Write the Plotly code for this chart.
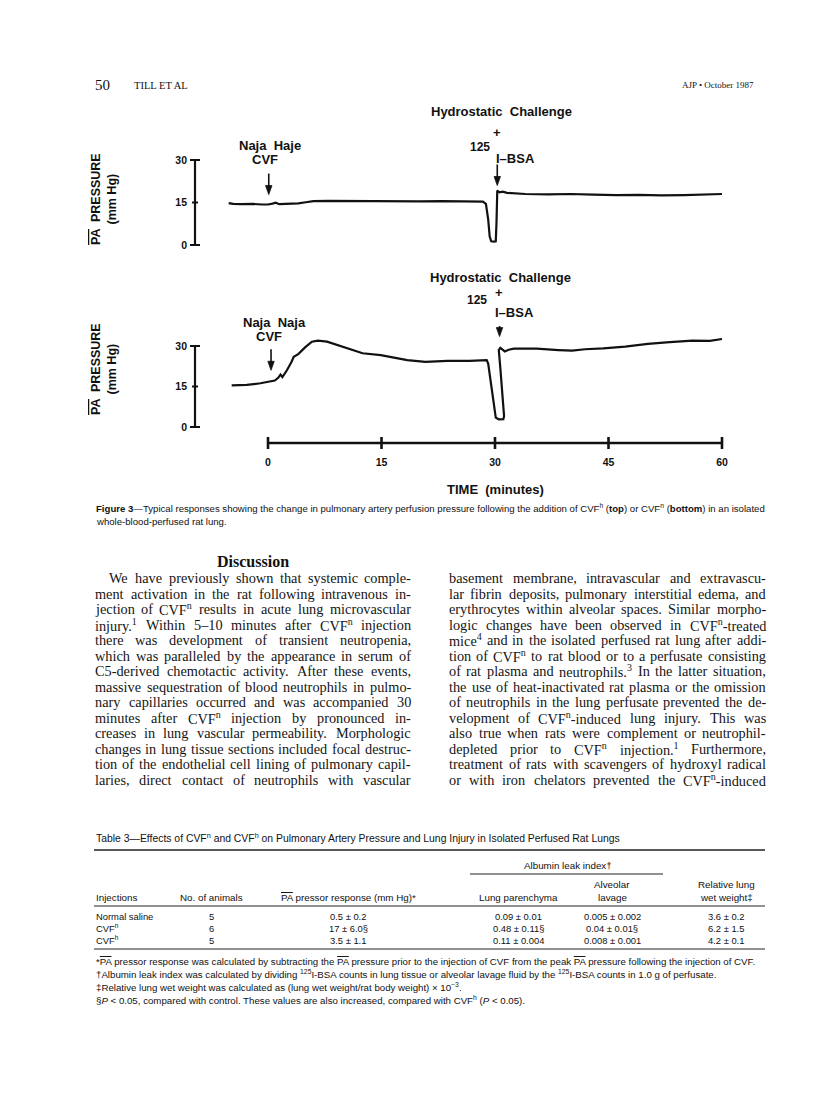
import re
import plotly.graph_objects as go

W, H = 816, 1104


def PX(x):
    return x / W


def PY(y):
    return 1 - y / H


# ---------------- data ----------------
time_ticks = [0, 15, 30, 45, 60]
pressure_ticks = [0, 15, 30]

# Top trace: CVF (Naja haje)
haje_time = [-5.2, -4.6, -3.5, -2.0, -0.8, 0.0, 0.6, 1.0, 1.5, 2.2, 3.0, 4.0, 5.0, 6.0, 8.0,
             11.0, 14.0, 17.0, 20.0, 23.0, 26.0, 28.4, 28.8, 29.1, 29.3, 29.5, 29.9, 30.1,
             30.2, 30.3, 30.6, 31.0, 31.6, 32.5, 34.0, 37.0, 40.0, 43.0, 46.0, 49.0, 52.0,
             55.0, 58.0, 60.0]
haje_pressure = [14.8, 14.5, 14.4, 14.5, 14.3, 14.3, 14.6, 14.9, 14.4, 14.5, 14.5, 14.7, 15.1,
                 15.5, 15.6, 15.5, 15.6, 15.5, 15.4, 15.5, 15.4, 15.3, 14.5, 9.0, 3.0, 1.3, 1.2,
                 1.3, 8.0, 19.2, 18.6, 18.8, 18.4, 18.2, 18.0, 17.9, 18.0, 17.8, 17.6, 17.7,
                 17.5, 17.6, 17.8, 18.0]

# Bottom trace: CVF (Naja naja)
naja_time = [-4.8, -2.8, -1.0, 0.0, 0.9, 1.35, 1.65, 1.9, 2.5, 3.1, 3.4, 4.0, 4.9, 5.8, 6.6,
             7.8, 9.6, 11.4, 12.5, 14.9, 16.6, 18.4, 20.8, 23.7, 26.6, 28.9, 29.1, 29.6, 30.1,
             30.5, 31.1, 31.2, 31.0, 30.7, 30.5, 30.7, 31.3, 31.8, 32.5, 35.5, 38.4, 40.2,
             41.9, 44.3, 47.2, 50.2, 53.1, 56.1, 58.4, 60.0]
naja_pressure = [15.4, 15.6, 16.2, 16.6, 17.2, 18.2, 19.4, 18.5, 21.0, 24.1, 26.0, 27.0, 29.5,
                 31.6, 32.0, 31.6, 30.0, 28.5, 27.3, 26.6, 25.8, 24.8, 24.1, 24.5, 24.5, 24.8,
                 23.5, 12.5, 3.5, 2.8, 2.9, 4.0, 12.5, 22.0, 28.5, 29.3, 28.0, 28.6, 29.0, 29.0,
                 28.5, 28.3, 28.8, 29.1, 29.8, 30.8, 31.4, 32.0, 31.9, 32.6]

# event markers (time in min, pressure at arrow tip)
haje_events = [(0.1, 17.8), (30.3, 21.0)]
naja_events = [(0.4, 21.0), (30.6, 33.5)]

# Table 3
table_injections = ["Normal saline", "CVF<sup>n</sup>", "CVF<sup>h</sup>"]
table_animals = ["5", "6", "5"]
table_pressor = ["0.5 ± 0.2", "17 ± 6.0§", "3.5 ± 1.1"]
table_parenchyma = ["0.09 ± 0.01", "0.48 ± 0.11§", "0.11 ± 0.004"]
table_lavage = ["0.005 ± 0.002", "0.04 ± 0.01§", "0.008 ± 0.001"]
table_wet = ["3.6 ± 0.2", "6.2 ± 1.5", "4.2 ± 0.1"]

left_col = [
    "We have previously shown that systemic comple-",
    "ment activation in the rat following intravenous in-",
    "jection of CVF<sup>n</sup> results in acute lung microvascular",
    "injury.<sup>1</sup> Within 5–10 minutes after CVF<sup>n</sup> injection",
    "there was development of transient neutropenia,",
    "which was paralleled by the appearance in serum of",
    "C5-derived chemotactic activity. After these events,",
    "massive sequestration of blood neutrophils in pulmo-",
    "nary capillaries occurred and was accompanied 30",
    "minutes after CVF<sup>n</sup> injection by pronounced in-",
    "creases in lung vascular permeability. Morphologic",
    "changes in lung tissue sections included focal destruc-",
    "tion of the endothelial cell lining of pulmonary capil-",
    "laries, direct contact of neutrophils with vascular",
]
right_col = [
    "basement membrane, intravascular and extravascu-",
    "lar fibrin deposits, pulmonary interstitial edema, and",
    "erythrocytes within alveolar spaces. Similar morpho-",
    "logic changes have been observed in CVF<sup>n</sup>-treated",
    "mice<sup>4</sup> and in the isolated perfused rat lung after addi-",
    "tion of CVF<sup>n</sup> to rat blood or to a perfusate consisting",
    "of rat plasma and neutrophils.<sup>3</sup> In the latter situation,",
    "the use of heat-inactivated rat plasma or the omission",
    "of neutrophils in the lung perfusate prevented the de-",
    "velopment of CVF<sup>n</sup>-induced lung injury. This was",
    "also true when rats were complement or neutrophil-",
    "depleted prior to CVF<sup>n</sup> injection.<sup>1</sup> Furthermore,",
    "treatment of rats with scavengers of hydroxyl radical",
    "or with iron chelators prevented the CVF<sup>n</sup>-induced",
]

# ---------------- styling helpers ----------------
SANS = "Liberation Sans"
SERIF = "Liberation Serif"
OV = "<span style='text-decoration:overline'>PA</span>"

TIMES = {
    'a': 444, 'b': 500, 'c': 444, 'd': 500, 'e': 444, 'f': 333, 'g': 500, 'h': 500, 'i': 278,
    'j': 278, 'k': 500, 'l': 278, 'm': 778, 'n': 500, 'o': 500, 'p': 500, 'q': 500, 'r': 333,
    's': 389, 't': 278, 'u': 500, 'v': 500, 'w': 722, 'x': 500, 'y': 500, 'z': 444,
    'A': 722, 'B': 667, 'C': 667, 'D': 722, 'E': 611, 'F': 556, 'G': 722, 'H': 722, 'I': 333,
    'J': 389, 'K': 722, 'L': 611, 'M': 889, 'N': 722, 'O': 722, 'P': 556, 'Q': 722, 'R': 667,
    'S': 556, 'T': 611, 'U': 722, 'V': 722, 'W': 944, 'X': 722, 'Y': 722, 'Z': 611,
    ' ': 250, ',': 250, '.': 250, '-': 333, '–': 500, '(': 333, ')': 333, ':': 278, ';': 278,
}


def word_width(word, size):
    total = 0.0
    parts = re.split(r'(<sup>.*?</sup>)', word)
    for p in parts:
        if p.startswith('<sup>'):
            inner = p[5:-6]
            total += sum(TIMES.get(c, 500) for c in inner) * 0.7
        else:
            total += sum(TIMES.get(c, 500) for c in p)
    return total / 1000.0 * size


annotations = []
shapes = []


def txt(x, y, text, size, family=SANS, xanchor='left', bold=False, color='#111', **kw):
    d = dict(x=PX(x), y=PY(y), xref='paper', yref='paper', text=text, showarrow=False,
             xanchor=xanchor, yanchor='middle',
             font=dict(family=family, size=size, color=color,
                       weight='bold' if bold else 'normal'))
    d.update(kw)
    annotations.append(d)


def justify(lines, x0, x1, y0, step, size, indent_first=0):
    for i, line in enumerate(lines):
        words = line.split(' ')
        left = x0 + (indent_first if i == 0 else 0)
        widths = [word_width(w, size) for w in words]
        gap = ((x1 - left) - sum(widths)) / max(len(words) - 1, 1)
        gap = max(gap, 0.2 * size)
        xx = left
        for w, ww in zip(words, widths):
            txt(xx - 1, y0 + i * step, w, size, family=SERIF, color='#151515')
            xx += ww + gap


def hline(x0, x1, y, width=1.0):
    shapes.append(dict(type='line', xref='paper', yref='paper', x0=PX(x0), x1=PX(x1),
                       y0=PY(y), y1=PY(y), line=dict(color='#222', width=width)))


def event_arrow(t, v, yref, length=21):
    # shaft and filled head anchored at the data point, sized in pixels
    shapes.append(dict(type='line', xref='x', yref=yref, xsizemode='pixel',
                       ysizemode='pixel', xanchor=t, yanchor=v, x0=0, x1=0, y0=6,
                       y1=length, line=dict(color='#111', width=1.6)))
    shapes.append(dict(type='path', xref='x', yref=yref, xsizemode='pixel',
                       ysizemode='pixel', xanchor=t, yanchor=v,
                       path='M 0 0 L -3.2 9 L 3.2 9 Z', fillcolor='#111',
                       line=dict(color='#111', width=0.8)))


# ---------------- figure ----------------
fig = go.Figure()
fig.add_trace(go.Scatter(x=haje_time, y=haje_pressure, mode='lines',
                         line=dict(color='#111', width=2.2), xaxis='x', yaxis='y',
                         showlegend=False, hoverinfo='skip'))
fig.add_trace(go.Scatter(x=naja_time, y=naja_pressure, mode='lines',
                         line=dict(color='#111', width=2.2), xaxis='x', yaxis='y2',
                         showlegend=False, hoverinfo='skip'))

# pixel geometry of the axes
T0, T60 = 260, 714
kx = (T60 - T0) / 60.0
x_dom = (187, 740)
x_range = [(x_dom[0] - T0) / kx, (x_dom[1] - T0) / kx]

top_zero, top_30 = 237, 152
kt = (top_zero - top_30) / 30.0
top_dom = (250, 130)
top_range = [(top_zero - top_dom[0]) / kt, (top_zero - top_dom[1]) / kt]

bot_zero, bot_30 = 419, 338
kb = (bot_zero - bot_30) / 30.0
bot_dom = (432, 318)
bot_range = [(bot_zero - bot_dom[0]) / kb, (bot_zero - bot_dom[1]) / kb]

axis_x = 187
time_y = 435

tickfont = dict(family=SANS, size=10.5, color='#111', weight='bold')

fig.update_layout(
    width=W, height=H, margin=dict(l=0, r=0, t=0, b=0),
    paper_bgcolor='white', plot_bgcolor='rgba(0,0,0,0)',
    xaxis=dict(domain=[PX(x_dom[0]), PX(x_dom[1])], range=x_range, anchor='free',
               position=PY(time_y), showgrid=False, zeroline=False, showline=False,
               ticks='', tickvals=time_ticks, ticktext=[str(t) for t in time_ticks],
               tickfont=tickfont, ticklabelstandoff=11),
    yaxis=dict(domain=[PY(top_dom[0]), PY(top_dom[1])], range=top_range, anchor='free',
               position=PX(axis_x), showgrid=False, zeroline=False, showline=False,
               ticks='', tickvals=pressure_ticks, ticktext=[str(v) for v in pressure_ticks],
               tickfont=tickfont, ticklabelstandoff=8),
    yaxis2=dict(domain=[PY(bot_dom[0]), PY(bot_dom[1])], range=bot_range, anchor='free',
                position=PX(axis_x), showgrid=False, zeroline=False, showline=False,
                ticks='', tickvals=pressure_ticks, ticktext=[str(v) for v in pressure_ticks],
                tickfont=tickfont, ticklabelstandoff=8),
)

# y axis bars with caps / crossing ticks
for yref in ('y', 'y2'):
    shapes.append(dict(type='line', xref='paper', yref=yref, x0=PX(axis_x), x1=PX(axis_x),
                       y0=pressure_ticks[0], y1=pressure_ticks[-1],
                       line=dict(color='#111', width=2.2)))
    for v in pressure_ticks:
        half = 3 if v not in (pressure_ticks[0], pressure_ticks[-1]) else 5
        shapes.append(dict(type='line', xref='paper', yref=yref, x0=PX(axis_x - half),
                           x1=PX(axis_x + half), y0=v, y1=v,
                           line=dict(color='#111', width=2)))

# time axis
shapes.append(dict(type='line', xref='x', yref='paper', x0=time_ticks[0], x1=time_ticks[-1],
                   y0=PY(time_y), y1=PY(time_y), line=dict(color='#111', width=2.4)))
for t in time_ticks:
    shapes.append(dict(type='line', xref='x', yref='paper', x0=t, x1=t, y0=PY(time_y - 6),
                       y1=PY(time_y + 6), line=dict(color='#111', width=2.6)))

# event arrows
for t, v in haje_events:
    event_arrow(t, v, 'y')
for t, v in naja_events:
    event_arrow(t, v, 'y2')

# chart labels
LB = 13
# top
txt(494, 104, "Hydrostatic  Challenge", LB, bold=True, xanchor='center')
txt(489, 124, "+", LB, bold=True, xanchor='center')
txt(484, 139, "125", 12, bold=True, xanchor='right')
txt(486, 150, "I–BSA", LB, bold=True)
txt(262, 137, "Naja  Haje", LB, bold=True, xanchor='center')
txt(257, 151, "CVF", LB, bold=True, xanchor='center')
# bottom
txt(492, 269, "Hydrostatic  Challenge", LB, bold=True, xanchor='center')
txt(491, 284, "+", LB, bold=True, xanchor='center')
txt(481, 292, "125", 12, bold=True, xanchor='right')
txt(485, 304, "I–BSA", LB, bold=True)
txt(266, 314, "Naja  Naja", LB, bold=True, xanchor='center')
txt(261, 328, "CVF", LB, bold=True, xanchor='center')

# y titles
for yc in (191, 361):
    annotations.append(dict(x=PX(96), y=PY(yc), xref='paper', yref='paper',
                            text=OV + "  PRESSURE<br>(mm Hg)", showarrow=False,
                            textangle=-90, xanchor='center', yanchor='middle',
                            font=dict(family=SANS, size=12.5, color='#111', weight='bold')))

txt(487, 481, "TIME  (minutes)", 13, bold=True, xanchor='center')

# header
txt(85, 77, "50", 15, family=SERIF)
txt(124, 77, "TILL ET AL", 10.5, family=SERIF)
txt(748, 77, "AJP • October 1987", 9, family=SERIF, xanchor='right')

# caption
txt(86, 500, "<b>Figure 3</b>—Typical responses showing the change in pulmonary artery perfusion "
    "pressure following the addition of CVF<sup>h</sup> (<b>top</b>) or CVF<sup>n</sup> "
    "(<b>bottom</b>) in an isolated", 9.6)
txt(86, 513, "whole-blood-perfused rat lung.", 9.6)

# Discussion
txt(245, 553, "<b>Discussion</b>", 16, family=SERIF, xanchor='center')
justify(left_col, 86, 402, 570, 15.5, 14.3, indent_first=14)
justify(right_col, 440, 757, 570, 15.5, 14.3)

# Table 3
txt(86, 829, "Table 3—Effects of CVF<sup>n</sup> and CVF<sup>h</sup> on Pulmonary Artery "
    "Pressure and Lung Injury in Isolated Perfused Rat Lungs", 10.4)
hline(86, 757, 842, 1.6)
txt(560, 857, "Albumin leak index†", 9.8, xanchor='center')
hline(462, 655, 866, 1.0)
txt(604, 876, "Alveolar", 9.8, xanchor='center')
txt(718, 876, "Relative lung", 9.8, xanchor='center')
hdr_y = 889
txt(86, hdr_y, "Injections", 9.8)
txt(203, hdr_y, "No. of animals", 9.8, xanchor='center')
txt(340, hdr_y, OV + " pressor response (mm Hg)*", 9.8, xanchor='center')
txt(510, hdr_y, "Lung parenchyma", 9.8, xanchor='center')
txt(604, hdr_y, "lavage", 9.8, xanchor='center')
txt(718, hdr_y, "wet weight‡", 9.8, xanchor='center')
hline(86, 757, 898, 1.0)
for i in range(3):
    ry = 908 + 12 * i
    txt(86, ry, table_injections[i], 9.4)
    txt(203, ry, table_animals[i], 9.4, xanchor='center')
    txt(340, ry, table_pressor[i], 9.4, xanchor='center')
    txt(510, ry, table_parenchyma[i], 9.4, xanchor='center')
    txt(604, ry, table_lavage[i], 9.4, xanchor='center')
    txt(718, ry, table_wet[i], 9.4, xanchor='center')
hline(86, 757, 941, 1.0)

foot = [
    "*" + OV + " pressor response was calculated by subtracting the " + OV +
    " pressure prior to the injection of CVF from the peak " + OV +
    " pressure following the injection of CVF.",
    "†Albumin leak index was calculated by dividing <sup>125</sup>I-BSA counts in lung tissue "
    "or alveolar lavage fluid by the <sup>125</sup>I-BSA counts in 1.0 g of perfusate.",
    "‡Relative lung wet weight was calculated as (lung wet weight/rat body weight) × 10<sup>−3</sup>.",
    "§<i>P</i> < 0.05, compared with control. These values are also increased, compared with "
    "CVF<sup>h</sup> (<i>P</i> < 0.05).",
]
for i, f in enumerate(foot):
    txt(86, 953 + 13 * i, f, 9.7)

fig.update_layout(annotations=annotations, shapes=shapes)
fig.write_html("out.html")
